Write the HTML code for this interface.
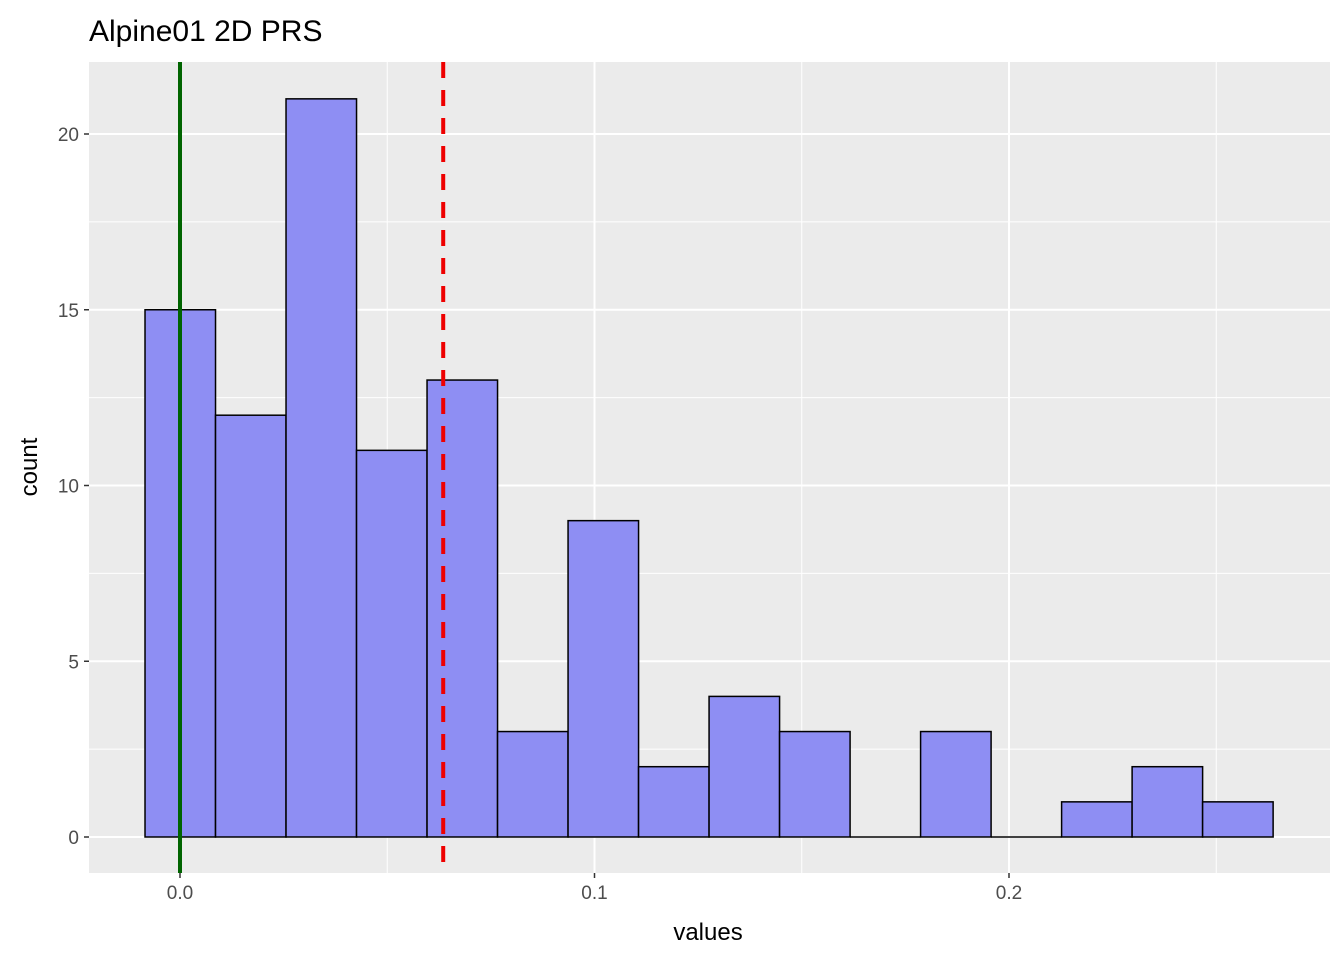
<!DOCTYPE html>
<html><head><meta charset="utf-8"><style>
body{margin:0;background:#fff;}
svg text{font-family:"Liberation Sans",sans-serif;}
</style></head><body>
<svg id="chart" width="1344" height="960">
<text x="89" y="41" font-size="30" fill="#000">Alpine01 2D PRS</text>
<rect x="89" y="62" width="1241" height="811" fill="#ebebeb"/>
<g id="grid"></g><g id="bars"></g><g id="lines"></g><g id="axes"></g>
<text x="708" y="940" font-size="24" text-anchor="middle" fill="#000">values</text>
<text transform="translate(37,467) rotate(-90)" font-size="24" text-anchor="middle" fill="#000">count</text>
</svg>
<script>
const binStart = -0.00844;
const binWidth = 0.01701;
const counts = [15,12,21,11,13,3,9,2,4,3,0,3,0,1,2,1];
const xTicks = [0, 0.1, 0.2];
const xTickLabels = ["0.0","0.1","0.2"];
const xMinor = [0.05, 0.15, 0.25];
const yTicks = [0,5,10,15,20];
const yMinor = [2.5,7.5,12.5,17.5];
const greenLineX = 0;
const redLineX = 0.0635;

const NS="http://www.w3.org/2000/svg";
const X=v=>180+v*4145;
const Y=v=>837-v*35.15;
const L=89,R=1330,T=62,B=873;
function mk(tag,attrs,parent){const e=document.createElementNS(NS,tag);for(const k in attrs)e.setAttribute(k,attrs[k]);document.getElementById(parent).appendChild(e);return e;}
xMinor.forEach(v=>{if(X(v)<R){const e=mk('line',{x1:X(v),x2:X(v),y1:T,y2:B,stroke:'#fff','stroke-width':1},'grid');

}});
yMinor.forEach(v=>{const e=mk('line',{x1:L,x2:R,y1:Y(v),y2:Y(v),stroke:'#fff','stroke-width':1},'grid');

});
xTicks.forEach((v,i)=>{const e=mk('line',{x1:X(v),x2:X(v),y1:T,y2:B,stroke:'#fff','stroke-width':2},'grid');


const t=mk('line',{x1:X(v),x2:X(v),y1:B,y2:B+5,stroke:'#333','stroke-width':1.5},'axes');


const l=mk('text',{x:X(v),y:B+26,'font-size':19,'text-anchor':'middle',fill:'#4d4d4d'},'axes');l.textContent=xTickLabels[i];

});
yTicks.forEach(v=>{const e=mk('line',{x1:L,x2:R,y1:Y(v),y2:Y(v),stroke:'#fff','stroke-width':2},'grid');


const t=mk('line',{x1:L-5,x2:L,y1:Y(v),y2:Y(v),stroke:'#333','stroke-width':1.5},'axes');


const l=mk('text',{x:L-10,y:Y(v)+7,'font-size':19,'text-anchor':'end',fill:'#4d4d4d'},'axes');l.textContent=v;

});
counts.forEach((c,i)=>{const x0=X(binStart+i*binWidth),x1=X(binStart+(i+1)*binWidth);
if(c===0){const z=mk('line',{x1:x0,x2:x1,y1:Y(0),y2:Y(0),stroke:'#000','stroke-width':1.5},'bars');

return;}
const r=mk('rect',{x:x0,y:Y(c),width:x1-x0,height:Y(0)-Y(c),fill:'#8e8ef3',stroke:'#000','stroke-width':1.5},'bars');

});
const g=mk('line',{x1:X(greenLineX),x2:X(greenLineX),y1:T,y2:B,stroke:'#006400','stroke-width':4},'lines');


const r=mk('line',{x1:X(redLineX),x2:X(redLineX),y1:T,y2:B,stroke:'#ee0000','stroke-width':4,'stroke-dasharray':'16 12'},'lines');


</script>
</body></html>
